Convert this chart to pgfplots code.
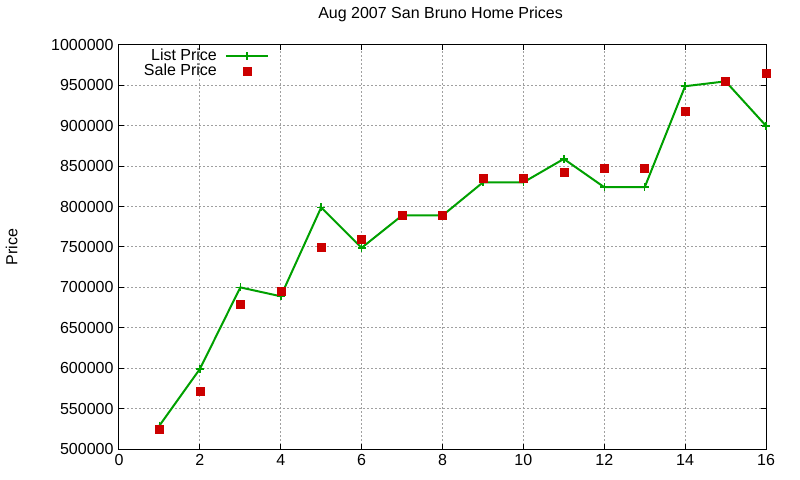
\documentclass[border=0pt]{standalone}
\usepackage{fontspec}
\setmainfont{Liberation Sans}
\usepackage{pgfplots}
\pgfplotsset{compat=1.18}

\definecolor{listgreen}{RGB}{0,160,0}
\definecolor{salered}{RGB}{204,0,0}
\definecolor{gridgray}{RGB}{160,160,160}

\pgfplotsset{
    listleg/.style={legend image code/.code={\draw[##1, mark repeat=2, mark phase=2]
        plot coordinates {(0bp,0bp) (21bp,0bp) (42bp,0bp)};}},
    saleleg/.style={legend image code/.code={\path (0bp,0bp) (42bp,0bp);
        \draw[##1] plot coordinates {(21bp,0bp)};}},
}

\begin{document}
\fontsize{16bp}{19bp}\selectfont
\begin{tikzpicture}
\useasboundingbox (-119bp,-31bp) rectangle (681bp,449bp);
\begin{axis}[
    scale only axis,
    width=647bp, height=404bp,
    xmin=0, xmax=16, ymin=500000, ymax=1000000,
    xtick={0,2,...,16},
    ytick={500000,550000,...,1000000},
    scaled y ticks=false,
    /pgf/number format/fixed,
    /pgf/number format/1000 sep={},
    /pgf/number format/assume math mode=true,
    axis line style={line width=1bp},
    major tick length=5bp,
    tick style={line width=1bp, black},
    grid=major,
    major grid style={line width=1bp, gridgray, dash pattern=on 2bp off 2bp},
    title={Aug 2007 San Bruno Home Prices},
    title style={at={(axis description cs:0.497,1.062)}, anchor=center},
    ylabel={Price},
    ylabel style={at={(axis description cs:-0.166,0.5)}, anchor=center, rotate=0},
    legend style={at={(axis description cs:0.232,0.995)}, anchor=north east,
        draw=none, fill=none, inner sep=0pt, row sep=-3bp,
        legend cell align=right,
        /tikz/every odd column/.append style={column sep=6bp}},
    legend plot pos=right,
]
\addplot[listgreen, line width=2bp, mark=+, mark size=4bp,
    mark options={line width=1.5bp}, listleg]
coordinates {
(1,529000) (2,599000) (3,700000) (4,689000) (5,799000) (6,749000)
(7,789000) (8,789000) (9,830000) (10,830000) (11,859000) (12,824000)
(13,824000) (14,949000) (15,955000) (16,900000)
};
\addlegendentry{List Price}
\addplot[only marks, mark=square*, mark size=4bp, salered,
    mark options={draw=salered, fill=salered}, saleleg]
coordinates {
(1,525000) (2,571000) (3,679000) (4,695000) (5,750000) (6,760000)
(7,789000) (8,789000) (9,835000) (10,835000) (11,842000) (12,848000)
(13,848000) (14,918000) (15,955000) (16,965000)
};
\addlegendentry{Sale Price}
\end{axis}
\end{tikzpicture}
\end{document}
